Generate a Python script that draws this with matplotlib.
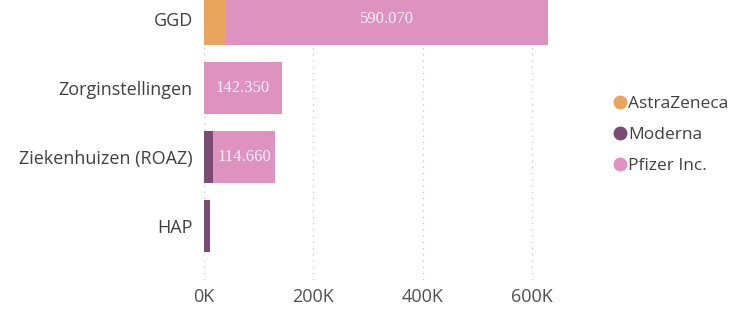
import numpy as np
import matplotlib
matplotlib.use('Agg')
import matplotlib.pyplot as plt
from matplotlib.lines import Line2D

# data
categories = ['GGD', 'Zorginstellingen', 'Ziekenhuizen (ROAZ)', 'HAP']
astrazeneca = [39000, 0, 0, 0]
moderna = [0, 0, 16000, 11000]
pfizer = [590070, 142350, 114660, 0]
x_ticks = [0, 200000, 400000, 600000]
x_tick_labels = ['0K', '200K', '400K', '600K']

series_names = ['AstraZeneca', 'Moderna', 'Pfizer Inc.']
colors = ['#E9A55E', '#7B4A75', '#DD92BF']

plt.rcParams['font.family'] = ['Open Sans', 'DejaVu Sans']

fig = plt.figure(figsize=(7.32, 3.09), dpi=100)
fig.patch.set_facecolor('white')
# axes placed so 0K sits at x=204px, bottom of plot at y=280px
ax = fig.add_axes([204 / 732, 29 / 309, 360.7 / 732, 280 / 309])

y = np.arange(len(categories))
az = np.array(astrazeneca)
mo = np.array(moderna)
pf = np.array(pfizer)

ax.barh(y, az, height=0.75, color=colors[0], zorder=2)
ax.barh(y, mo, left=az, height=0.75, color=colors[1], zorder=2)
ax.barh(y, pf, left=az + mo, height=0.75, color=colors[2], zorder=2)

# value labels on the Pfizer segments
for i, v in enumerate(pf):
    if v > 0:
        cx = az[i] + mo[i] + v / 2
        ax.text(cx, y[i], f"{v:,}".replace(',', '.'), ha='center', va='center',
                color='#FBF1F7', fontsize=12, family='Liberation Serif', zorder=3)

ax.set_xlim(0, 660000)
ax.set_ylim(3.78, -0.275)
ax.set_xticks(x_ticks)
ax.set_xticklabels(x_tick_labels)
ax.set_yticks(y)
ax.set_yticklabels(categories)

for s in ax.spines.values():
    s.set_visible(False)
ax.tick_params(axis='both', length=0)
ax.tick_params(axis='x', pad=6, labelsize=13, labelcolor='#505050')
ax.tick_params(axis='y', pad=8, labelsize=13, labelcolor='#404040')
ax.grid(axis='x', linestyle=(0, (1, 4)), color='#C4C4C4', linewidth=0.9, zorder=0)
ax.set_axisbelow(True)

handles = [Line2D([0], [0], marker='o', linestyle='', markersize=9,
                  markerfacecolor=c, markeredgecolor=c) for c in colors]
fig.legend(handles, series_names, loc='center left',
           bbox_to_anchor=(604 / 732, 1 - 135 / 309), frameon=False,
           fontsize=12.5, labelcolor='#404040', handletextpad=0.0,
           labelspacing=0.85, handlelength=0.9, borderpad=0)

plt.savefig('out.png', dpi=100, facecolor='white')
